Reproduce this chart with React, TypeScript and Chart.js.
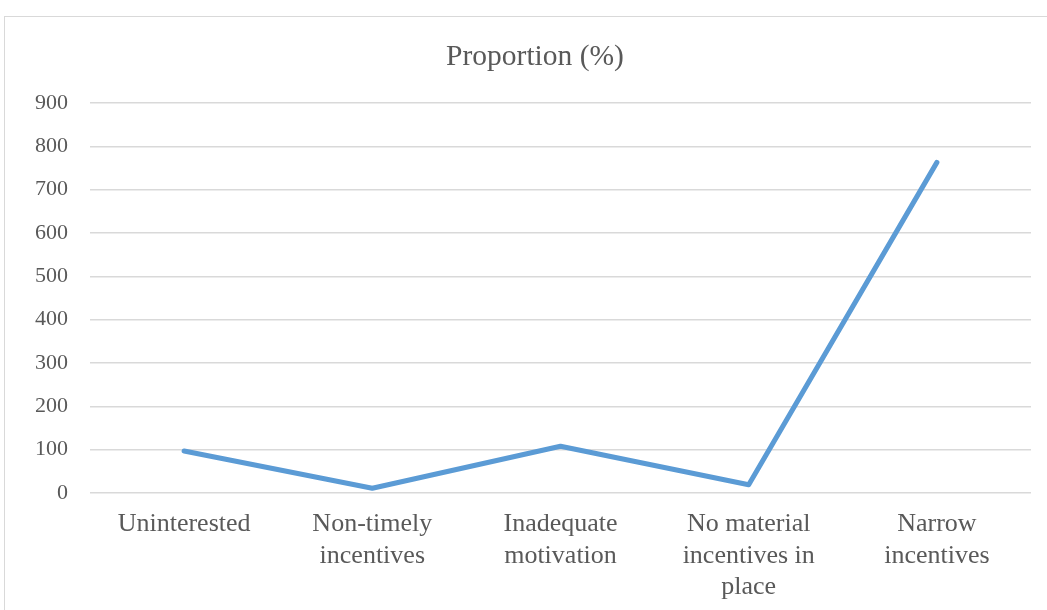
import React, { useEffect, useRef } from "react";
import { Chart, registerables } from "chart.js";

Chart.register(...registerables);

const categories: (string | string[])[] = [
  "Uninterested",
  ["Non-timely", "incentives"],
  ["Inadequate", "motivation"],
  ["No material", "incentives in", "place"],
  ["Narrow", "incentives"],
];
const proportion = [97, 11, 108, 19, 763];
const yTicks = { min: 0, max: 900, step: 100 };
const chartTitle = "Proportion (%)";

const FONT = "'Liberation Serif', 'Times New Roman', serif";
const TEXT = "#595959";
const GRID = "#d9d9d9";

// Thin frame around the whole chart, open to the right and bottom edges
const framePlugin = {
  id: "frame",
  beforeDraw(chart: Chart) {
    const ctx = chart.ctx;
    ctx.save();
    ctx.fillStyle = "#ffffff";
    ctx.fillRect(0, 0, chart.width, chart.height);
    ctx.strokeStyle = GRID;
    ctx.lineWidth = 1;
    ctx.strokeRect(4.5, 16.5, chart.width + 20, chart.height + 20);
    ctx.restore();
  },
};

// Chart title, centred over the frame rather than the canvas
const titlePlugin = {
  id: "frameTitle",
  afterDraw(chart: Chart) {
    const ctx = chart.ctx;
    ctx.save();
    ctx.fillStyle = TEXT;
    ctx.font = `normal 29.5px ${FONT}`;
    ctx.textAlign = "center";
    ctx.textBaseline = "middle";
    ctx.fillText(chartTitle, 535, 57);
    ctx.restore();
  },
};

export default function App() {
  const ref = useRef<HTMLCanvasElement | null>(null);

  useEffect(() => {
    document.body.style.margin = "0";
    const canvas = ref.current;
    if (!canvas) return;
    const chart = new Chart(canvas, {
      type: "line",
      data: {
        labels: categories,
        datasets: [
          {
            label: chartTitle,
            data: proportion,
            borderColor: "#5B9BD5",
            backgroundColor: "#5B9BD5",
            borderWidth: 5,
            borderCapStyle: "round",
            borderJoinStyle: "round",
            pointRadius: 0,
            pointHoverRadius: 0,
            tension: 0,
            fill: false,
          },
        ],
      },
      options: {
        animation: false,
        responsive: false,
        maintainAspectRatio: false,
        layout: { padding: { left: 0, right: 16, top: 103, bottom: 0 } },
        plugins: {
          legend: { display: false },
          tooltip: { enabled: false },
          title: { display: false },
        },
        scales: {
          x: {
            offset: true,
            grid: { display: false, drawTicks: false },
            border: { display: false },
            ticks: {
              color: TEXT,
              font: { family: FONT, size: 26, lineHeight: 1.2 },
              padding: 16,
              maxRotation: 0,
              autoSkip: false,
            },
            afterFit(scale: any) {
              scale.height = 117;
            },
          },
          y: {
            min: yTicks.min,
            max: yTicks.max,
            grid: { color: GRID, lineWidth: 1.5, drawTicks: false },
            border: { display: false },
            ticks: {
              stepSize: yTicks.step,
              color: TEXT,
              font: { family: FONT, size: 22 },
              padding: 22,
            },
            afterFit(scale: any) {
              scale.width = 90;
            },
          },
        },
      },
      plugins: [framePlugin, titlePlugin],
    });
    return () => chart.destroy();
  }, []);

  return (
    <div style={{ position: "absolute", left: 0, top: 0, width: 1047, height: 610, overflow: "hidden" }}>
      <canvas ref={ref} width={1047} height={610} style={{ display: "block" }} />
    </div>
  );
}
